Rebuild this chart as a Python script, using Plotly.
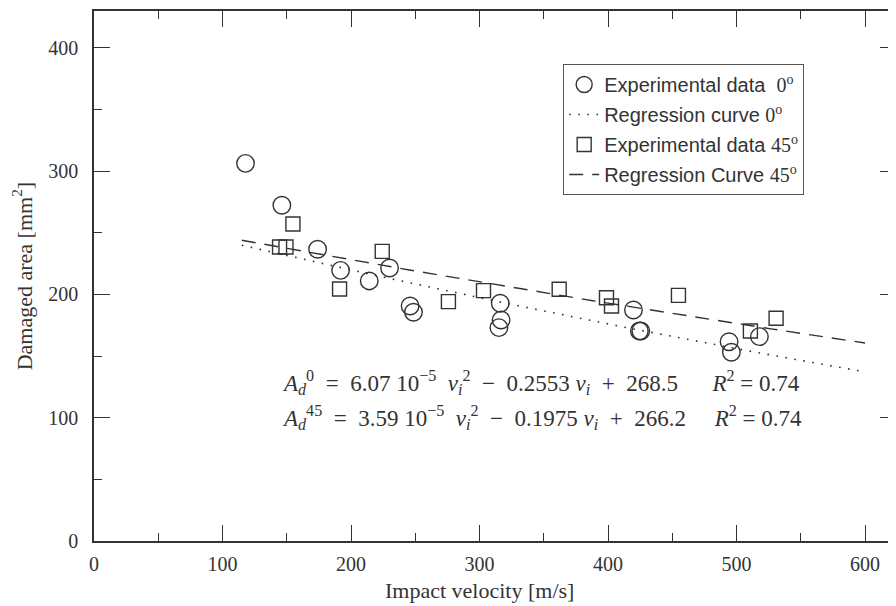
import numpy as np
import plotly.graph_objects as go

# Experimental data, 0 degrees (circles)
v_0deg = [117.9, 146.2, 174.0, 191.9, 214.2, 230.0, 246.0, 248.6,
          316.1, 316.8, 315.1, 419.8, 424.4, 425.5, 494.2, 496.0, 517.8]
area_0deg = [306.4, 272.4, 236.7, 219.6, 211.0, 221.5, 190.7, 185.6,
             192.9, 179.3, 173.1, 187.4, 170.4, 170.4, 161.7, 153.1, 165.8]

# Experimental data, 45 degrees (squares)
v_45deg = [144.4, 149.4, 154.8, 191.1, 224.3, 275.8, 303.1, 362.0,
           398.8, 402.7, 454.8, 510.8, 530.8]
area_45deg = [238.5, 238.5, 257.2, 204.5, 235.0, 194.2, 203.1, 204.2,
              197.4, 190.7, 199.3, 170.4, 180.7]

# Regression coefficients as printed on the chart: a*v^2 + b*v + c
coef_0deg = [6.07e-5, -0.2553, 268.5]
coef_45deg = [3.59e-5, -0.1975, 266.2]
v_curve_range = [115, 600]

x_ticks = [0, 100, 200, 300, 400, 500, 600]
x_minor = [50, 150, 250, 350, 450, 550]
y_ticks = [0, 100, 200, 300, 400]
y_minor = [50, 150, 250, 350]

v_curve = np.linspace(v_curve_range[0], v_curve_range[1], 120)
curve_0 = np.polyval(coef_0deg, v_curve)
curve_45 = np.polyval(coef_45deg, v_curve)

INK = "#333333"
SERIF = "Liberation Serif"
SANS = "Liberation Sans"
X_RANGE = [0, 624.1]
Y_RANGE = [0, 430]

def deg(s):
    return f"<span style='font-family:{SERIF}'>{s}<sup>o</sup></span>"

fig = go.Figure()
fig.add_trace(go.Scatter(
    x=v_0deg, y=area_0deg, mode="markers",
    name="Experimental data  " + deg("0"), legendgroup="a",
    marker=dict(symbol="circle-open", size=17.5, color=INK, line=dict(width=1.4, color=INK)),
))
fig.add_trace(go.Scatter(
    x=v_curve, y=curve_0, mode="lines",
    name="Regression curve " + deg("0"), legendgroup="b",
    line=dict(color=INK, width=1.6, dash="1.6px,7.5px"),
))
fig.add_trace(go.Scatter(
    x=v_45deg, y=area_45deg, mode="markers",
    name="Experimental data " + deg("45"), legendgroup="c",
    marker=dict(symbol="square-open", size=14, color=INK, line=dict(width=1.4, color=INK)),
))
fig.add_trace(go.Scatter(
    x=v_curve, y=curve_45, mode="lines",
    name="Regression Curve " + deg("45"), legendgroup="d",
    line=dict(color=INK, width=1.4, dash="14px,9px"),
))
# invisible trace to activate the mirrored minor-tick axes
fig.add_trace(go.Scatter(x=[None], y=[None], xaxis="x2", yaxis="y2",
                         showlegend=False, hoverinfo="skip"))

eq_font = dict(family=SERIF, size=23, color=INK)
sp = "\u00a0"
def eq(sup, a, b, c, gap):
    return (f"<i>A</i><sub><i>d</i></sub><sup>{sup}</sup>{sp}{sp}={sp}{sp}{a}{sp}10<sup>\u22125</sup>{sp}{sp}"
            f"<i>v</i><sub><i>i</i></sub><sup>2</sup>{sp}{sp}\u2212{sp}{sp}{b}{sp}<i>v</i><sub><i>i</i></sub>"
            f"{sp}{sp}+{sp}{sp}{c}{sp*gap}<i>R</i><sup>2</sup>{sp}={sp}0.74")

fig.add_annotation(x=145, y=129, xref="x", yref="y", text=eq("0", "6.07", "0.2553", "268.5", 6),
                   showarrow=False, xanchor="left", yanchor="middle", font=eq_font)
fig.add_annotation(x=145, y=100, xref="x", yref="y", text=eq("45", "3.59", "0.1975", "266.2", 5),
                   showarrow=False, xanchor="left", yanchor="middle", font=eq_font)
fig.add_annotation(x=300, y=-0.0925, xref="x", yref="paper", text="Impact velocity [m/s]",
                   showarrow=False, xanchor="center", yanchor="middle",
                   font=dict(family=SERIF, size=22, color=INK))
fig.add_annotation(x=-0.0894, y=0.5, xref="paper", yref="paper", text="Damaged area [mm<sup>2</sup>]",
                   showarrow=False, xanchor="center", yanchor="middle", textangle=-90,
                   font=dict(family=SERIF, size=22, color=INK))

# The page body adds an 8px offset, so the figure is 8px smaller in each direction.
fig.update_layout(
    width=888, height=598,
    margin=dict(l=85.7, r=0, t=3, b=65, autoexpand=False),
    paper_bgcolor="white", plot_bgcolor="white",
    showlegend=True,
    legend=dict(
        x=0.585, y=0.9, xanchor="left", yanchor="top",
        bgcolor="white", bordercolor="#555555", borderwidth=1,
        font=dict(family=SANS, size=20, color=INK),
        tracegroupgap=1, itemwidth=30,
    ),
    font=dict(family=SERIF, color=INK),
    xaxis2=dict(overlaying="x", side="top", range=X_RANGE, tickvals=x_minor,
                ticks="inside", ticklen=8, tickwidth=1.2, tickcolor=INK,
                showticklabels=False, showgrid=False, zeroline=False, showline=False),
    yaxis2=dict(overlaying="y", side="right", range=Y_RANGE, tickvals=y_minor,
                ticks="inside", ticklen=8, tickwidth=1.2, tickcolor=INK,
                showticklabels=False, showgrid=False, zeroline=False, showline=False),
)
fig.layout.xaxis.update(
    range=X_RANGE, tickvals=x_ticks, ticktext=[str(t) for t in x_ticks],
    ticks="inside", ticklen=16, tickwidth=1.2, tickcolor=INK,
    minor=dict(ticks="inside", ticklen=8, tickvals=x_minor, tickwidth=1.2, tickcolor=INK),
    showline=True, linecolor=INK, linewidth=1.6, mirror="allticks",
    showgrid=False, zeroline=False, automargin=False,
    tickfont=dict(family=SERIF, size=20, color=INK), ticklabelstandoff=4,
)
fig.layout.yaxis.update(
    range=Y_RANGE, tickvals=y_ticks, ticktext=[str(t) for t in y_ticks],
    ticks="inside", ticklen=16, tickwidth=1.2, tickcolor=INK,
    minor=dict(ticks="inside", ticklen=8, tickvals=y_minor, tickwidth=1.2, tickcolor=INK),
    showline=True, linecolor=INK, linewidth=1.6, mirror="allticks",
    showgrid=False, zeroline=False, automargin=False,
    tickfont=dict(family=SERIF, size=20, color=INK), ticklabelstandoff=10,
)

fig.write_html("out.html")
